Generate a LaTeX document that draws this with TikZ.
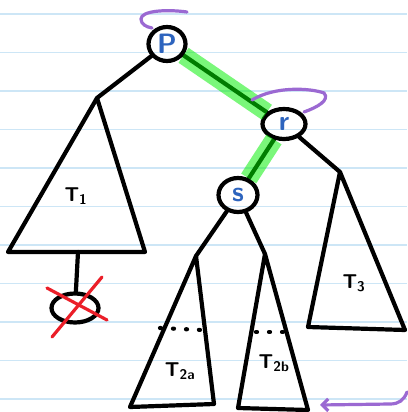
\documentclass[tikz,border=0pt]{standalone}
\usepackage{tikz}
\usetikzlibrary{shapes.geometric, arrows, arrows.meta, positioning, calc}
\definecolor{paperline}{RGB}{205,230,246}
\definecolor{letterblue}{RGB}{45,100,190}
\definecolor{rotpurple}{RGB}{155,105,210}
\definecolor{pathgreen}{RGB}{0,240,0}
\definecolor{crossred}{RGB}{235,30,40}

\begin{document}
\begin{tikzpicture}[x=1pt, y=-1pt,
    pen/.style={black, line width=4.2pt, line cap=round, line join=round},
    vertex/.style={draw=black, line width=4.2pt, ellipse, inner sep=0pt,
                   font=\sffamily\bfseries\fontsize{28}{28}\selectfont, text=letterblue},
    treelabel/.style={font=\sffamily\bfseries\fontsize{20}{20}\selectfont},
    highlight/.style={pathgreen, opacity=0.52, line width=18pt},
    rotation/.style={rotpurple, line width=3.2pt, line cap=round}]
    % paper
    \fill[white] (0,0) rectangle (407,412);
    \useasboundingbox (0,0) rectangle (407,412);
    \foreach \k in {0,...,10}
        \draw[paperline, line width=1.2pt] (0,14+38.5*\k) -- (407,14+38.5*\k);

    % vertices
    \node[vertex, minimum width=37pt, minimum height=34pt] (P) at (167,44) {P};
    \node[vertex, minimum width=43pt, minimum height=30pt] (r) at (284,124) {r};
    \node[vertex, minimum width=39pt, minimum height=34pt] (s) at (238,195) {s};
    \node[vertex, minimum width=47pt, minimum height=29pt] (leaf) at (75,308) {};

    % subtree corners
    \coordinate (T1top) at (97,98);
    \coordinate (T1left) at (8,252);
    \coordinate (T1right) at (145,252);
    \coordinate (T1base) at (78,252);
    \coordinate (T2atop) at (196,256);
    \coordinate (T2aleft) at (130,407);
    \coordinate (T2aright) at (214,404);
    \coordinate (T2btop) at (265,254);
    \coordinate (T2bleft) at (238,408);
    \coordinate (T2bright) at (308,410);
    \coordinate (T3top) at (340,172);
    \coordinate (T3left) at (308,327);
    \coordinate (T3right) at (405,330);

    % edges
    \draw[pen] (P) -- (T1top);
    \draw[pen] (P) -- (r);
    \draw[pen] (r) -- (s);
    \draw[pen] (r) -- (T3top);
    \draw[pen] (s) -- (T2atop);
    \draw[pen] (s) -- (T2btop);
    \draw[pen] (T1base) -- (leaf);

    % subtrees
    \draw[pen] (T1top) -- (T1left) -- (T1right) -- cycle;
    \draw[pen] (T2atop) -- (T2aleft) -- (T2aright) -- cycle;
    \draw[pen] (T2btop) -- (T2bleft) -- (T2bright) -- cycle;
    \draw[pen] (T3top) -- (T3left) -- (T3right) -- cycle;
    \draw[pen, dash pattern=on 1pt off 12pt] (160,328) -- (202,330);
    \draw[pen, dash pattern=on 1pt off 12pt] (256,332) -- (287,332);

    \node[treelabel] (T1lab) at (76,196) {T\textsubscript{1}};
    \node[treelabel] (T2alab) at (180,371) {T\textsubscript{2a}};
    \node[treelabel] (T2blab) at (274,363) {T\textsubscript{2b}};
    \node[treelabel] (T3lab) at (354,283) {T\textsubscript{3}};

    % rotation path
    \draw[highlight] (P) -- (r);
    \draw[highlight] (r) -- (s);

    % removed leaf
    \draw[crossred, line width=3.2pt, line cap=round] (47,288) -- (107,320);
    \draw[crossred, line width=3.2pt, line cap=round] (102,277) -- (52,337);

    % rotation marks
    \draw[rotation] (187,12) .. controls (165,9) and (141,11) .. (141,19)
        .. controls (141,24) and (146,27) .. (152,28);
    \draw[rotation] (252,100) .. controls (275,86) and (310,88) .. (324,93)
        .. controls (330,100) and (318,107) .. (304,112);
    \draw[rotation, -{Straight Barb[length=6pt, width=12pt]}]
        (407,392) .. controls (404,400) and (399,404) .. (390,404) -- (320,405);
\end{tikzpicture}
\end{document}
